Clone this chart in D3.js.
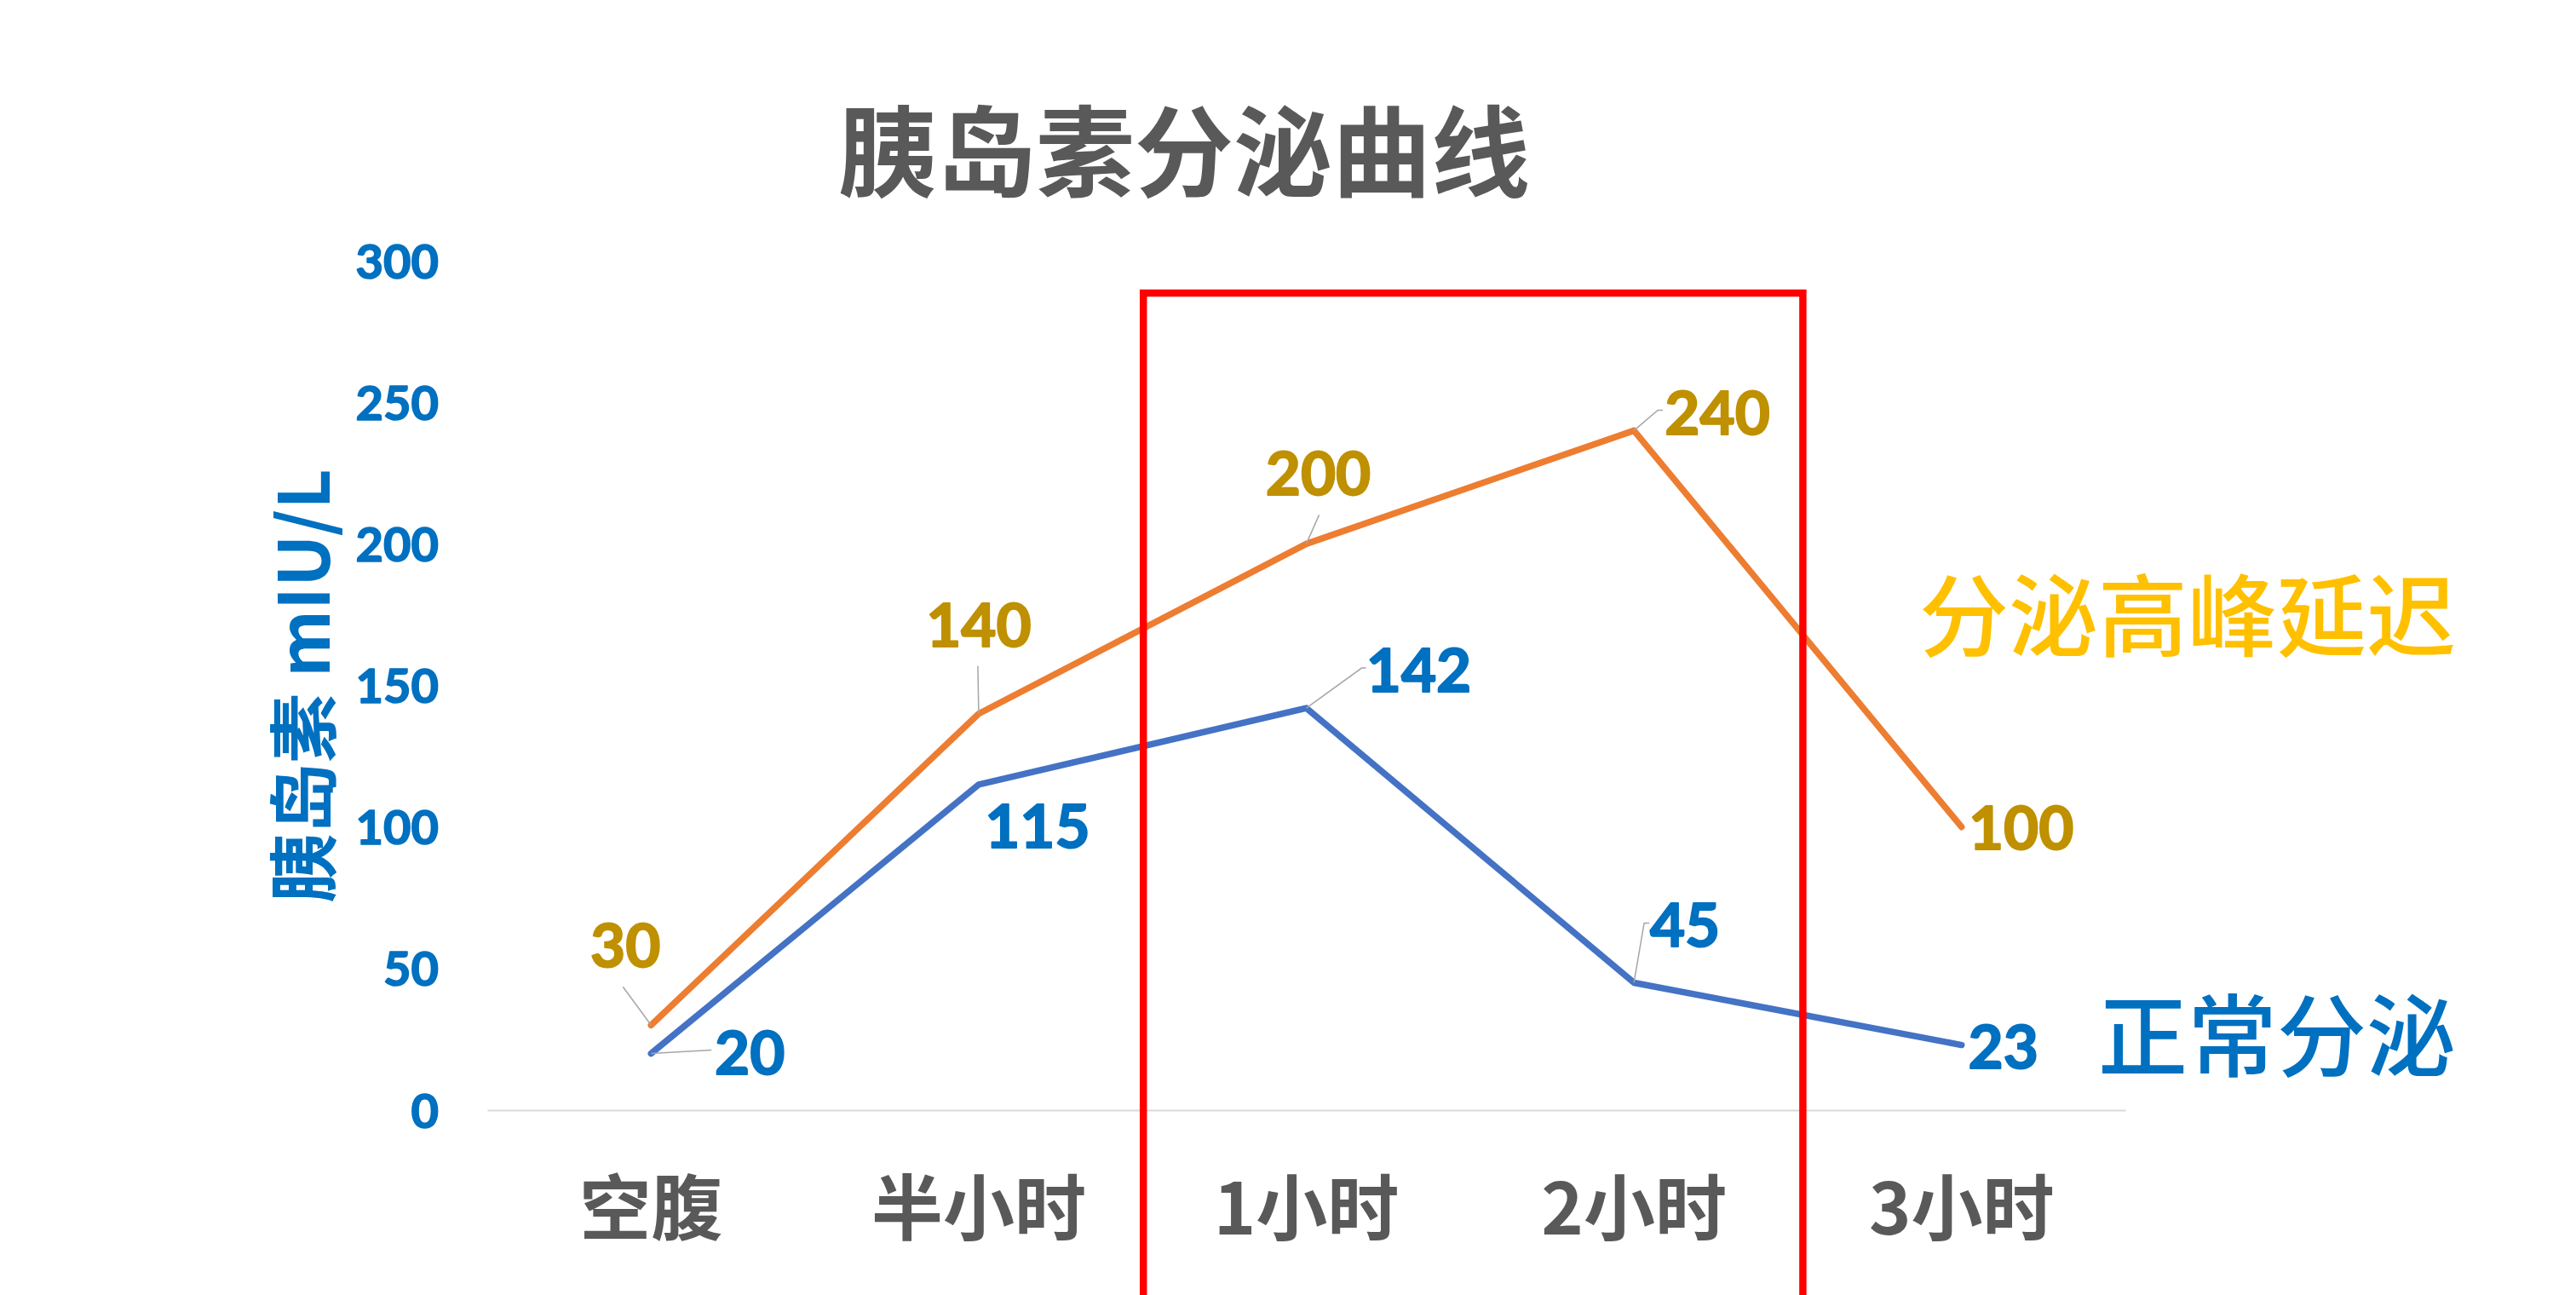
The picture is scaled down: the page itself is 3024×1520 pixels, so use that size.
<!DOCTYPE html>
<html>
<head>
<meta charset="utf-8">
<script src="https://cdn.jsdelivr.net/npm/d3@7"></script>
<style>
  html, body { margin: 0; padding: 0; background: #ffffff; }
  svg { display: block; }
</style>
</head>
<body>
<svg id="chart" width="3024" height="1520"></svg>
<script>
// ---------------- data ----------------
const categories = ["空腹", "半小时", "1小时", "2小时", "3小时"];
const normalValues = [20, 115, 142, 45, 23];        // 正常分泌
const delayedValues = [30, 140, 200, 240, 100];     // 分泌高峰延迟
const yTicks = [0, 50, 100, 150, 200, 250, 300];
const chartTitle = "胰岛素分泌曲线";
const yAxisTitle = "胰岛素 mIU/L";
const seriesNames = ["正常分泌", "分泌高峰延迟"];
const highlightedCategories = ["1小时", "2小时"];

// ---------------- layout / style (not data) ----------------
const W = 3024, H = 1520;
const plot = { left: 572, right: 2495, top: 306, bottom: 1303 };
const CJK = "'Noto Sans CJK SC', 'Noto Sans', sans-serif";
const NUM = "Lato, 'Open Sans', sans-serif";
const colors = {
  normal: "#4472C4", delayed: "#ED7D31",
  normalLabel: "#0070C0", delayedLabel: "#BF9000",
  delayedName: "#FFC000", axisText: "#595959", leader: "#A6A6A6",
  axis: "#D9D9D9", box: "#FF0000"
};
// label placement offsets relative to the point [dx, dy], and leader paths
const normalLabelPos = [
  { dx: 116, dy: -1, leader: [[71, -4]] },
  { dx: 69, dy: 49, leader: null },
  { dx: 132, dy: -44, leader: [[65, -47], [70, -47]] },
  { dx: 60, dy: -67, leader: [[12, -70], [18, -70]] },
  { dx: 49, dy: 2, leader: null }
];
const delayedLabelPos = [
  { dx: -30, dy: -93, leader: [[-33, -45]] },
  { dx: 0, dy: -104, leader: [[-1, -56]] },
  { dx: 14, dy: -82, leader: [[15, -34]] },
  { dx: 98, dy: -20, leader: [[28, -24], [34, -24]] },
  { dx: 70, dy: 1, leader: null }
];

const svg = d3.select("#chart");

const x = d3.scaleBand().domain(categories).range([plot.left, plot.right]).padding(0);
const xc = c => x(c) + x.bandwidth() / 2;
const y = d3.scaleLinear().domain([0, 300]).range([plot.bottom, plot.top]);

// title
svg.append("text")
  .attr("x", 1390).attr("y", 222)
  .attr("text-anchor", "middle")
  .style("font-family", CJK).style("font-weight", 700)
  .style("font-size", "116px").attr("fill", colors.axisText)
  .text(chartTitle);

// y axis (labels only)
const yAxis = svg.append("g")
  .attr("transform", `translate(${515},0)`)
  .call(d3.axisLeft(y).tickValues(yTicks).tickSize(0).tickPadding(0).tickFormat(d3.format("d")));
yAxis.select(".domain").remove();
yAxis.selectAll("text")
  .attr("dy", null).attr("y", 20)
  .style("font-family", NUM).style("font-weight", 700)
  .style("font-size", "56px").attr("fill", colors.normalLabel)
  .attr("stroke", colors.normalLabel).attr("stroke-width", 1.6)
  .attr("stroke-linejoin", "round");

// y axis title
svg.append("text")
  .attr("transform", `translate(${357 + 30},${805}) rotate(-90)`)
  .attr("text-anchor", "middle")
  .style("font-family", CJK).style("font-weight", 700)
  .style("font-size", "82px").attr("fill", colors.normalLabel)
  .text(yAxisTitle);

// x axis
const xAxis = svg.append("g")
  .attr("transform", `translate(0,${plot.bottom})`)
  .call(d3.axisBottom(x).tickSize(0).tickPadding(0));
xAxis.select(".domain").attr("stroke", colors.axis).attr("stroke-width", 2);
xAxis.selectAll("text")
  .attr("dy", null).attr("y", 146)
  .style("font-family", CJK).style("font-weight", 700)
  .style("font-size", "84px").attr("fill", colors.axisText);

// lines
const line = d3.line().x((d, i) => xc(categories[i])).y(d => y(d));
function drawSeries(values, color) {
  svg.append("path")
    .datum(values)
    .attr("d", line)
    .attr("fill", "none")
    .attr("stroke", color)
    .attr("stroke-width", 7.5)
    .attr("stroke-linejoin", "round")
    .attr("stroke-linecap", "round");
}
drawSeries(normalValues, colors.normal);
drawSeries(delayedValues, colors.delayed);

// data labels
function drawLabels(values, pos, color) {
  const g = svg.append("g");
  values.forEach((v, i) => {
    const px = xc(categories[i]), py = y(v);
    const p = pos[i];
    if (p.leader) {
      const pts = [[px, py]].concat(p.leader.map(o => [px + o[0], py + o[1]]));
      g.append("path")
        .attr("d", d3.line()(pts))
        .attr("fill", "none").attr("stroke", colors.leader).attr("stroke-width", 1.5);
    }
    g.append("text")
      .attr("x", px + p.dx).attr("y", py + p.dy + 25)
      .attr("text-anchor", "middle")
      .style("font-family", NUM).style("font-weight", 700)
      .style("font-size", "71px").attr("fill", color)
      .attr("stroke", color).attr("stroke-width", 2)
      .attr("stroke-linejoin", "round")
      .text(v);
  });
}
drawLabels(normalValues, normalLabelPos, colors.normalLabel);
drawLabels(delayedValues, delayedLabelPos, colors.delayedLabel);

// series name annotations
svg.append("text")
  .attr("x", 2568).attr("y", 722 + 40)
  .attr("text-anchor", "middle")
  .style("font-family", CJK).style("font-weight", 500)
  .style("font-size", "105px").attr("fill", colors.delayedName)
  .text(seriesNames[1]);
svg.append("text")
  .attr("x", 2673).attr("y", 1215 + 40)
  .attr("text-anchor", "middle")
  .style("font-family", CJK).style("font-weight", 500)
  .style("font-size", "105px").attr("fill", colors.normalLabel)
  .text(seriesNames[0]);

// red highlight box around 1小时–2小时
const bx0 = x(highlightedCategories[0]) + 1;
const bx1 = x(highlightedCategories[1]) + x.bandwidth() + 6;
svg.append("rect")
  .attr("x", bx0).attr("y", 344)
  .attr("width", bx1 - bx0).attr("height", H + 100 - 344)
  .attr("fill", "none").attr("stroke", colors.box).attr("stroke-width", 8.5);
</script>
</body>
</html>
